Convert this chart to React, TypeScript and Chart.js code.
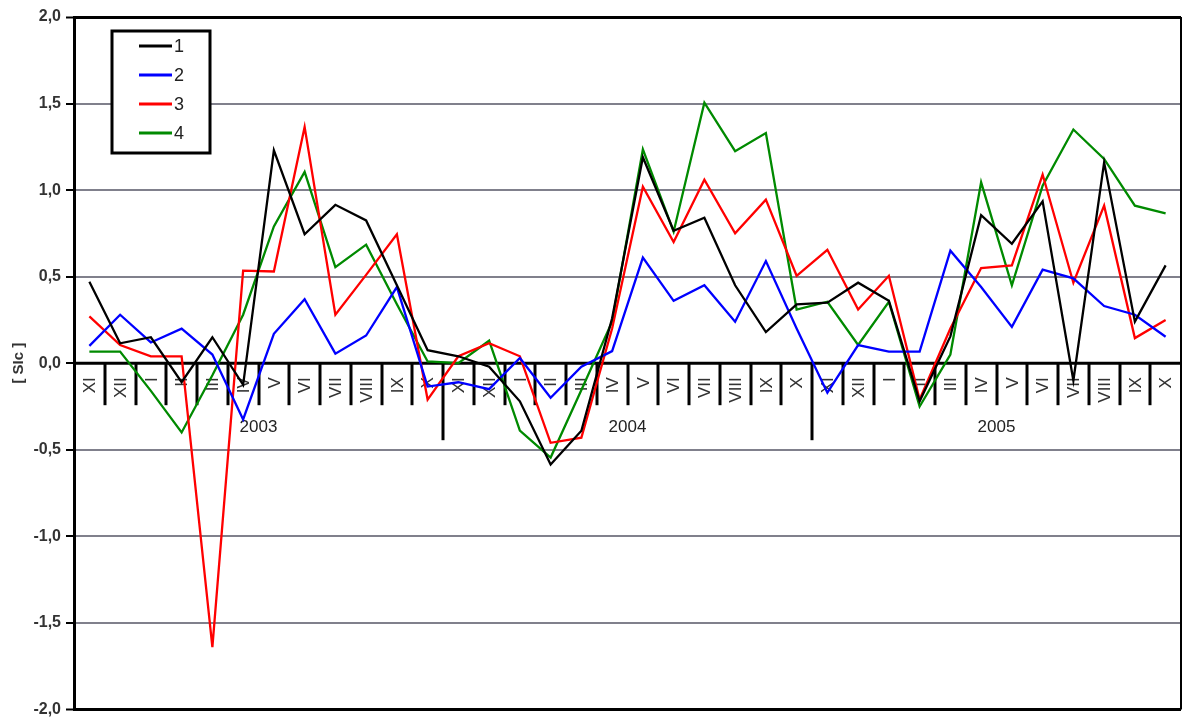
import React, { useEffect, useRef } from "react";
import { Chart, registerables } from "chart.js";

Chart.register(...registerables);

const monthLabels = [
  "XI", "XII", "I", "II", "III", "IV", "V", "VI", "VII", "VIII", "IX", "X",
  "XI", "XII", "I", "II", "III", "IV", "V", "VI", "VII", "VIII", "IX", "X",
  "XI", "XII", "I", "II", "III", "IV", "V", "VI", "VII", "VIII", "IX", "X",
];
const yearLabels = ["2003", "2004", "2005"];
const monthsPerYear = 12;

const series1 = [0.47, 0.115, 0.15, -0.11, 0.15, -0.125, 1.23, 0.745, 0.915, 0.825, 0.45, 0.075, 0.04, -0.02, -0.22, -0.585, -0.39, 0.26, 1.19, 0.765, 0.84, 0.45, 0.18, 0.34, 0.35, 0.465, 0.36, -0.22, 0.155, 0.855, 0.69, 0.935, -0.1, 1.16, 0.24, 0.565];
const series2 = [0.1, 0.28, 0.12, 0.2, 0.05, -0.325, 0.17, 0.37, 0.055, 0.16, 0.44, -0.135, -0.11, -0.15, 0.03, -0.2, -0.02, 0.07, 0.61, 0.36, 0.45, 0.24, 0.59, 0.2, -0.17, 0.105, 0.067, 0.067, 0.65, 0.44, 0.21, 0.54, 0.49, 0.33, 0.28, 0.153];
const series3 = [0.27, 0.105, 0.04, 0.04, -1.64, 0.535, 0.53, 1.365, 0.28, 0.51, 0.745, -0.21, 0.04, 0.115, 0.04, -0.46, -0.43, 0.2, 1.02, 0.7, 1.06, 0.75, 0.945, 0.505, 0.655, 0.31, 0.505, -0.21, 0.2, 0.55, 0.565, 1.09, 0.465, 0.91, 0.145, 0.25];
const series4 = [0.067, 0.067, -0.16, -0.4, -0.07, 0.28, 0.79, 1.105, 0.555, 0.685, 0.34, 0.01, 0.0, 0.13, -0.39, -0.545, -0.155, 0.24, 1.235, 0.76, 1.505, 1.225, 1.33, 0.31, 0.355, 0.105, 0.355, -0.25, 0.05, 1.045, 0.45, 1.025, 1.35, 1.18, 0.91, 0.865];

const seriesNames = ["1", "2", "3", "4"];
const seriesColors = ["#000000", "#0000ff", "#ff0000", "#008a00"];
const yTitle = "[ SIc ]";

const FONT = "Arial, 'Liberation Sans', sans-serif";

const monthAxisPlugin = {
  id: "monthAxis",
  beforeDatasetsDraw(chart: any) {
    const ctx = chart.ctx;
    const x = chart.scales.x;
    const y = chart.scales.y;
    const area = chart.chartArea;
    const n = monthLabels.length;
    const w = (area.right - area.left) / n;
    const y0 = y.getPixelForValue(0);
    ctx.save();
    ctx.strokeStyle = "#000";
    ctx.lineWidth = 3;
    ctx.beginPath();
    ctx.moveTo(area.left, y0);
    ctx.lineTo(area.right, y0);
    ctx.stroke();
    for (let k = 1; k < n; k++) {
      const px = Math.round(area.left + k * w);
      const long = k % monthsPerYear === 0;
      ctx.beginPath();
      ctx.moveTo(px, y0);
      ctx.lineTo(px, y0 + (long ? 77 : 42));
      ctx.stroke();
    }
    ctx.fillStyle = "#333";
    ctx.font = `17px ${FONT}`;
    ctx.textAlign = "right";
    ctx.textBaseline = "middle";
    for (let i = 0; i < n; i++) {
      const cx = x.getPixelForValue(i);
      ctx.save();
      ctx.translate(cx + 1, y0 + 14);
      ctx.rotate(-Math.PI / 2);
      ctx.fillText(monthLabels[i], 0, 0);
      ctx.restore();
    }
    ctx.fillStyle = "#222";
    ctx.font = `17px ${FONT}`;
    ctx.textAlign = "center";
    ctx.textBaseline = "middle";
    yearLabels.forEach((lab, j) => {
      const cx = area.left + (j * monthsPerYear + monthsPerYear / 2) * w;
      ctx.fillText(lab, cx, y0 + 64);
    });
    ctx.restore();
  },
  afterDraw(chart: any) {
    const ctx = chart.ctx;
    const area = chart.chartArea;
    ctx.save();
    ctx.strokeStyle = "#000";
    ctx.lineWidth = 2;
    ctx.beginPath();
    ctx.moveTo(area.right, area.top);
    ctx.lineTo(area.right, area.bottom);
    ctx.stroke();
    const bx = 112, by = 31, bw = 98, bh = 122;
    ctx.fillStyle = "#fff";
    ctx.fillRect(bx, by, bw, bh);
    ctx.lineWidth = 3;
    ctx.strokeRect(bx, by, bw, bh);
    ctx.font = `18px ${FONT}`;
    ctx.textAlign = "left";
    ctx.textBaseline = "middle";
    chart.data.datasets.forEach((ds: any, i: number) => {
      const ly = 46 + i * 29;
      ctx.strokeStyle = ds.borderColor;
      ctx.lineWidth = 3;
      ctx.beginPath();
      ctx.moveTo(139, ly);
      ctx.lineTo(172, ly);
      ctx.stroke();
      ctx.fillStyle = "#222";
      ctx.fillText(ds.label, 174, ly + 1);
    });
    ctx.restore();
  },
};

export default function App() {
  const ref = useRef<HTMLCanvasElement | null>(null);
  useEffect(() => {
    document.body.style.margin = "0";
    const canvas = ref.current;
    if (!canvas) return;
    const data = [series1, series2, series3, series4];
    const chart = new Chart(canvas, {
      type: "line",
      data: {
        labels: monthLabels,
        datasets: data.map((d, i) => ({
          label: seriesNames[i],
          data: d,
          borderColor: seriesColors[i],
          backgroundColor: seriesColors[i],
          borderWidth: 2.3,
          pointRadius: 0,
          tension: 0,
          fill: false,
        })),
      },
      options: {
        animation: false,
        responsive: true,
        maintainAspectRatio: false,
        layout: { padding: { top: 17, bottom: 12, left: 0, right: 1 } },
        plugins: { legend: { display: false }, tooltip: { enabled: false } },
        scales: {
          x: {
            type: "category",
            display: false,
            offset: true,
          },
          y: {
            min: -2,
            max: 2,
            afterFit(scale: any) {
              scale.width = 74;
            },
            ticks: {
              stepSize: 0.5,
              color: "#333",
              font: { family: FONT, size: 16, weight: "bold" },
              padding: 5,
              callback: (v: any) => Number(v).toFixed(1).replace(".", ","),
            },
            grid: {
              color: (c: any) => {
                const v = c.tick ? c.tick.value : 1;
                return v === 2 || v === -2 || v === 0 ? "#000" : "#80808c";
              },
              lineWidth: (c: any) => {
                const v = c.tick ? c.tick.value : 1;
                return v === 2 || v === -2 ? 3 : 2;
              },
              tickColor: "#000",
              tickWidth: 2,
              tickLength: 8,
            },
            border: { display: true, color: "#000", width: 3 },
            title: {
              display: true,
              text: yTitle,
              color: "#333",
              font: { family: FONT, size: 15, weight: "bold" },
              padding: { top: 10, bottom: 0 },
            },
          },
        },
      },
      plugins: [monthAxisPlugin],
    });
    return () => chart.destroy();
  }, []);
  return (
    <div style={{ width: 1182, height: 724, position: "relative" }}>
      <canvas ref={ref} />
    </div>
  );
}
